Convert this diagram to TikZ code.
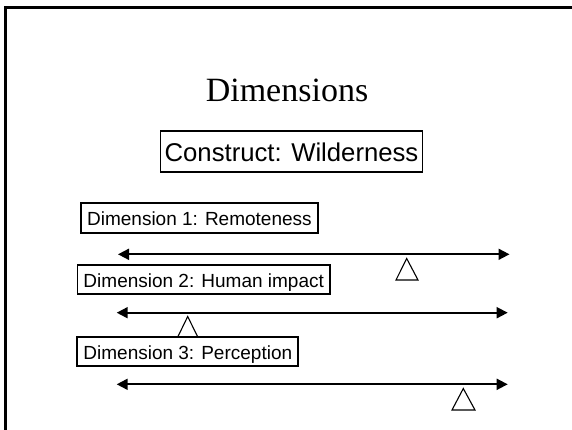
\documentclass[tikz,border=0pt]{standalone}
\usepackage{fontspec}
\setmainfont{Liberation Serif}
\newfontfamily\arialfont{Liberation Sans}
\usetikzlibrary{arrows.meta,shadows}
\tikzset{
  x=1pt,y=-1pt,
  dimbox/.style={draw,line width=1.8pt,fill=white,inner sep=0pt,
    font=\arialfont\fontsize{19}{19}\selectfont,text height=15.7pt,text depth=0pt,
    drop shadow={shadow xshift=0.8pt,shadow yshift=-1pt,fill=black,opacity=1}},
  conbox/.style={draw,line width=1.8pt,fill=white,inner sep=0pt,
    font=\arialfont\fontsize{25.7}{26}\selectfont,text height=20.2pt,text depth=0pt,
    drop shadow={shadow xshift=-1pt,shadow yshift=-1pt,fill=black,opacity=1}},
  scaleline/.style={line width=1.8pt,{Triangle[length=11pt,width=11pt]}-{Triangle[length=11pt,width=11pt]}},
  marker/.style={draw,line width=1.1pt,fill=white,line join=miter},
}
\begin{document}
\begin{tikzpicture}
\useasboundingbox (0,0) rectangle (572,429);
\begin{scope}
\clip (0,0) rectangle (572,429);
\draw[line width=2.5pt] (5.5,500) -- (5.5,7.5) -- (600,7.5);
\end{scope}

\node[font=\fontsize{34}{34}\selectfont,anchor=base] (title) at (287,101) {Dimensions};
\node[conbox,minimum width=262pt,minimum height=41pt] (construct) at (291.5,151.5) {Construct: Wilderness};

% scale lines
\coordinate (l1) at (118,254.3); \coordinate (r1) at (509.5,254.3);
\coordinate (l2) at (116.7,312.7); \coordinate (r2) at (507.7,312.7);
\coordinate (l3) at (116.7,384.3); \coordinate (r3) at (507.7,384.3);
\draw[scaleline] (l1) -- (r1);
\draw[scaleline] (l2) -- (r2);
\draw[scaleline] (l3) -- (r3);

% markers
\draw[marker] (406.7,258.5) -- (418,280) -- (396,280) -- cycle;
\draw[marker] (187.7,316.5) -- (198,337.5) -- (177.5,337.5) -- cycle;
\draw[marker] (463.3,388.5) -- (475,410) -- (452,410) -- cycle;

\node[dimbox,minimum width=237pt,minimum height=29.7pt] (d1) at (199.4,217.9) {Dimension 1: Remoteness};
\node[dimbox,minimum width=252.5pt,minimum height=29.3pt] (d2) at (203.7,279.7) {Dimension 2: Human impact};
\node[dimbox,minimum width=221pt,minimum height=29.3pt] (d3) at (187.8,351.4) {Dimension 3: Perception};
\end{tikzpicture}
\end{document}
